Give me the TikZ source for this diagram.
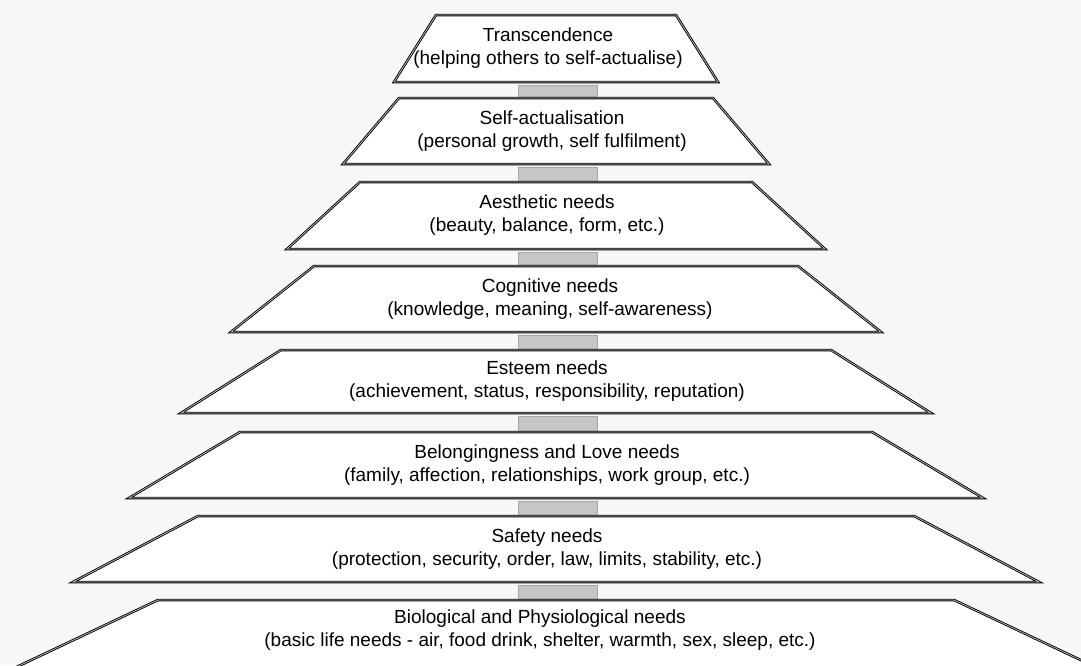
\documentclass[tikz,border=0pt]{standalone}
\usepackage{fontspec}
\setmainfont{Liberation Sans}
\tikzstyle{level} = [draw=black, line width=0.9pt, double=gray!45, double distance=0.7pt, fill=white]
\tikzstyle{link} = [fill=gray!45, draw=gray!70, line width=0.6pt]
\tikzstyle{need} = [align=center, font=\fontsize{19}{22.5}\selectfont, inner sep=0pt]

\begin{document}
\begin{tikzpicture}[x=1pt, y=-1pt]
        \useasboundingbox [fill=gray!6] (0,0) rectangle (1081,665);
        \clip (0,0) rectangle (1081,665);

        % the eight levels, top to bottom
        \draw [level] (436,15) -- coordinate (t1) (676,15) -- (718,82) -- coordinate (b1) (394,82) -- cycle;
        \draw [level] (399,98) -- coordinate (t2) (713,98) -- (769,164) -- coordinate (b2) (343,164) -- cycle;
        \draw [level] (360,182) -- coordinate (t3) (752,182) -- (825,249) -- coordinate (b3) (287,249) -- cycle;
        \draw [level] (314,266) -- coordinate (t4) (798,266) -- (881,332) -- coordinate (b4) (231,332) -- cycle;
        \draw [level] (281,350) -- coordinate (t5) (831,350) -- (931,413) -- coordinate (b5) (181,413) -- cycle;
        \draw [level] (240,432) -- coordinate (t6) (872,432) -- (983,498) -- coordinate (b6) (129,498) -- cycle;
        \draw [level] (198,516) -- coordinate (t7) (914,516) -- (1039,582) -- coordinate (b7) (73,582) -- cycle;
        \draw [level] (158,600) -- coordinate (t8) (954,600) -- (1144,690) -- (-32,690) -- cycle;

        \node (transcendence) [need] at (548,48) {Transcendence\\(helping others to self-actualise)};
        \node (selfact) [need] at (552,131) {Self-actualisation\\(personal growth, self fulfilment)};
        \node (aesthetic) [need] at (547,215) {Aesthetic needs\\(beauty, balance, form, etc.)};
        \node (cognitive) [need] at (550,299) {Cognitive needs\\(knowledge, meaning, self-awareness)};
        \node (esteem) [need] at (547,381) {Esteem needs\\(achievement, status, responsibility, reputation)};
        \node (belonging) [need] at (547,465) {Belongingness and Love needs\\(family, affection, relationships, work group, etc.)};
        \node (safety) [need] at (547,549) {Safety needs\\(protection, security, order, law, limits, stability, etc.)};
        \node (biological) [need] at (540,630) {Biological and Physiological needs\\(basic life needs - air, food drink, shelter, warmth, sex, sleep, etc.)};

        % joints between the levels
        \draw [link] ([xshift=-38pt, yshift=-3pt]b1) rectangle ([xshift=41pt, yshift=2pt]t2);
        \draw [link] ([xshift=-38pt, yshift=-3pt]b2) rectangle ([xshift=41pt, yshift=2pt]t3);
        \draw [link] ([xshift=-38pt, yshift=-3pt]b3) rectangle ([xshift=41pt, yshift=2pt]t4);
        \draw [link] ([xshift=-38pt, yshift=-3pt]b4) rectangle ([xshift=41pt, yshift=2pt]t5);
        \draw [link] ([xshift=-38pt, yshift=-3pt]b5) rectangle ([xshift=41pt, yshift=2pt]t6);
        \draw [link] ([xshift=-38pt, yshift=-3pt]b6) rectangle ([xshift=41pt, yshift=2pt]t7);
        \draw [link] ([xshift=-38pt, yshift=-3pt]b7) rectangle ([xshift=41pt, yshift=2pt]t8);

\end{tikzpicture}
\end{document}
